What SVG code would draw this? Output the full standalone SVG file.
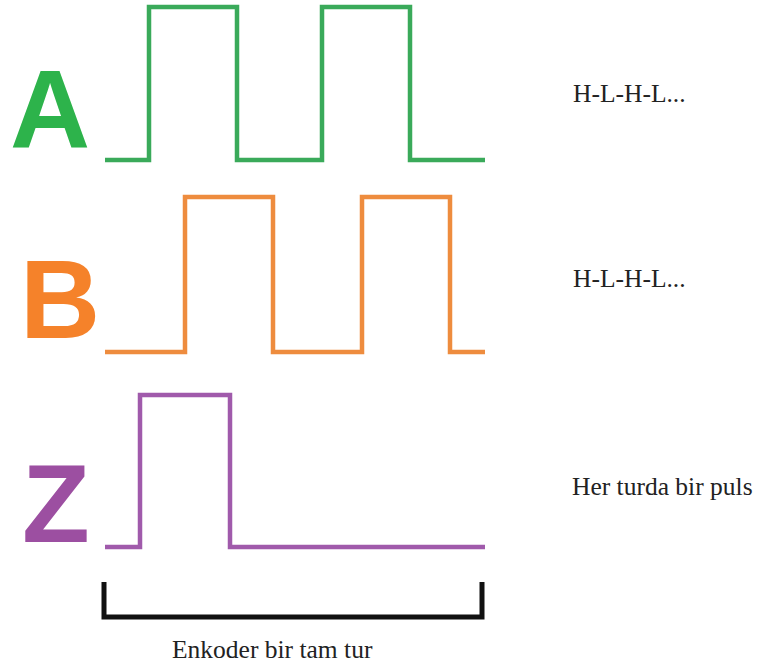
<svg xmlns="http://www.w3.org/2000/svg" width="758" height="667" viewBox="0 0 758 667">
<style>
.w{fill:none;stroke-width:4.5;stroke-linejoin:miter;stroke-linecap:butt}
.L{font-family:"Liberation Sans",Arial,sans-serif;font-weight:bold;font-size:111px}
.t{font-family:"Liberation Serif","Times New Roman",serif;font-size:25.5px;fill:#222}
</style>
<rect width="758" height="667" fill="#fff"/>
<g id="A">
<text class="L" x="10" y="148" fill="#2db34b">A</text>
<path class="w" stroke="#3aaa5a" d="M105 160H149V7H237V160H322V7H410V160H485"/>
<text class="t" x="573" y="102">H-L-H-L...</text>
</g>
<g id="B">
<text class="L" x="20" y="338" font-size="106" fill="#f5822a">B</text>
<path class="w" stroke="#ee8c3e" d="M105 352H185V197H273V352H362V197H450V352H485"/>
<text class="t" x="573" y="287">H-L-H-L...</text>
</g>
<g id="Z">
<text class="L" x="22" y="542" font-size="108" fill="#9c4fa1">Z</text>
<path class="w" stroke="#a05aab" d="M105 547H140V395H230V547H485"/>
<text class="t" x="572" y="495">Her turda bir puls</text>
</g>
<g id="bracket">
<path fill="none" stroke="#111" stroke-width="5" d="M104 582V617H482V582"/>
<text class="t" x="172" y="658">Enkoder bir tam tur</text>
</g>
</svg>
